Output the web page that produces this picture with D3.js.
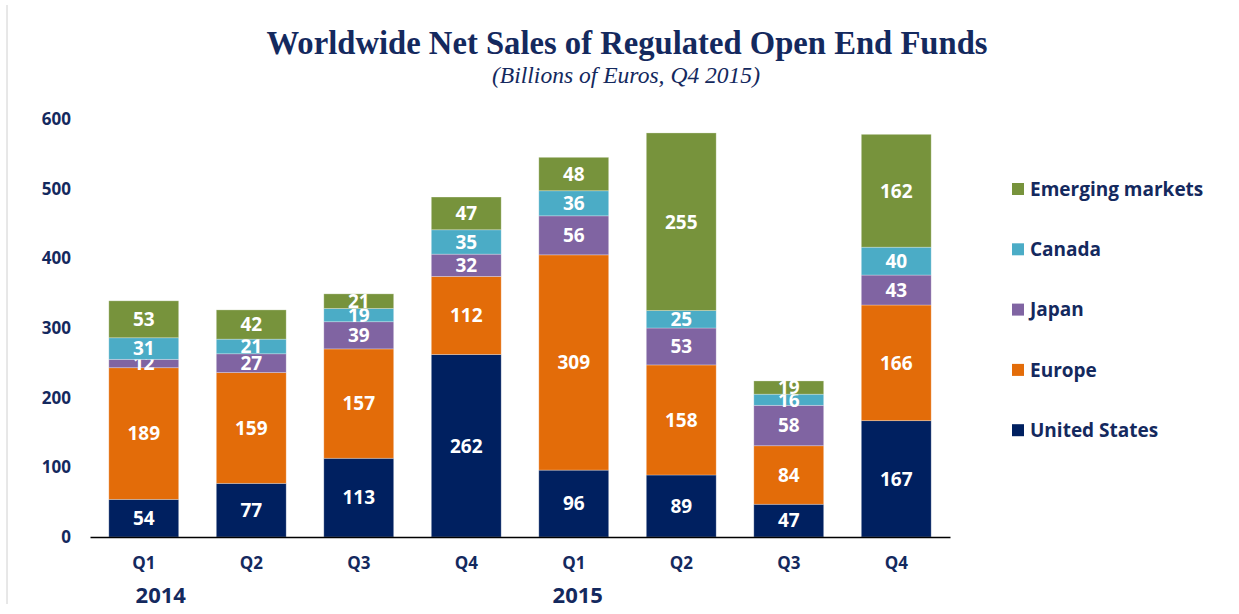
<!DOCTYPE html>
<html>
<head>
<meta charset="utf-8">
<script src="https://cdn.jsdelivr.net/npm/d3@7"></script>
<style>
  body { margin: 0; background: #fff; }
  svg { display: block; }
</style>
</head>
<body>
<svg id="chart" width="1239" height="614"></svg>
<script>
// Quarters shown along the x axis
const quarters = ["Q1 2014", "Q2 2014", "Q3 2014", "Q4 2014", "Q1 2015", "Q2 2015", "Q3 2015", "Q4 2015"];
const quarterLabels = ["Q1", "Q2", "Q3", "Q4", "Q1", "Q2", "Q3", "Q4"];
const years = ["2014", "2015"];

// Series values (billions of euros), stacked bottom to top
const unitedStates = [54, 77, 113, 262, 96, 89, 47, 167];
const europe = [189, 159, 157, 112, 309, 158, 84, 166];
const japan = [12, 27, 39, 32, 56, 53, 58, 43];
const canada = [31, 21, 19, 35, 36, 25, 16, 40];
const emerging = [53, 42, 21, 47, 48, 255, 19, 162];

const yTicks = [0, 100, 200, 300, 400, 500, 600];

const seriesNames = ["United States", "Europe", "Japan", "Canada", "Emerging markets"];
const seriesValues = [unitedStates, europe, japan, canada, emerging];
const seriesColors = ["#002060", "#E36C09", "#8064A2", "#4BACC6", "#77933C"];

const textColor = "#14295e";
const sansFont = "'Open Sans', 'Noto Sans', sans-serif";

const svg = d3.select("#chart");

// faint frame line at the left
svg.append("line")
    .attr("x1", 7).attr("x2", 7)
    .attr("y1", 5).attr("y2", 604)
    .style("stroke", "#d0d0d0")
    .style("stroke-width", 1);

// Title (narrow serif look, squeezed to the reference width)
svg.append("text")
    .attr("x", 627).attr("y", 54)
    .attr("text-anchor", "middle")
    .attr("textLength", 721)
    .attr("lengthAdjust", "spacingAndGlyphs")
    .style("font-family", "'Liberation Serif', 'Times New Roman', serif")
    .style("font-weight", "bold")
    .style("font-size", "34px")
    .style("fill", textColor)
    .text("Worldwide  Net Sales of Regulated Open End Funds");

svg.append("text")
    .attr("x", 626).attr("y", 83)
    .attr("text-anchor", "middle")
    .attr("textLength", 268)
    .attr("lengthAdjust", "spacingAndGlyphs")
    .style("font-family", "'Liberation Serif', 'Times New Roman', serif")
    .style("font-style", "italic")
    .style("font-size", "23px")
    .style("fill", textColor)
    .text("(Billions of Euros, Q4 2015)");

// Scales
const x = d3.scaleBand()
    .domain(quarters)
    .range([90, 950])
    .paddingInner(0.35)
    .paddingOuter(0.175);

const y = d3.scaleLinear()
    .domain([0, 600])
    .range([537, 119]);

// Stack data
const table = quarters.map((q, i) => {
    const row = { quarter: q };
    seriesNames.forEach((name, s) => { row[name] = seriesValues[s][i]; });
    return row;
});

const stacked = d3.stack().keys(seriesNames)(table);

const layers = svg.append("g").selectAll("g")
    .data(stacked)
    .join("g")
    .attr("fill", (d, i) => seriesColors[i]);

layers.selectAll("rect")
    .data(d => d)
    .join("rect")
    .attr("x", d => x(d.data.quarter))
    .attr("y", d => y(d[1]))
    .attr("width", x.bandwidth())
    .attr("height", d => y(d[0]) - y(d[1]))
    .attr("stroke", "rgba(255,255,255,0.35)")
    .attr("stroke-width", 0.8);

// Data labels (centred in each segment, small segments overlap like the original)
layers.selectAll("text")
    .data(d => d.map(v => ({ v, key: d.key })))
    .join("text")
    .attr("x", d => x(d.v.data.quarter) + x.bandwidth() / 2)
    .attr("y", d => (y(d.v[0]) + y(d.v[1])) / 2)
    .attr("dy", "0.36em")
    .attr("text-anchor", "middle")
    .style("font-family", sansFont)
    .style("font-weight", "bold")
    .style("font-size", "19px")
    .style("fill", "#ffffff")
    .text(d => d.v.data[d.key]);

// Y axis (labels only)
const yAxis = svg.append("g")
    .attr("transform", "translate(71,0)")
    .call(d3.axisLeft(y).tickValues(yTicks).tickSize(0).tickPadding(0));
yAxis.select(".domain").remove();
yAxis.selectAll("text")
    .style("font-family", sansFont)
    .style("font-weight", "bold")
    .style("font-size", "17px")
    .style("fill", textColor);

// X axis
const xAxis = svg.append("g")
    .attr("transform", "translate(0,537)")
    .call(d3.axisBottom(x).tickSize(0).tickPadding(20).tickFormat((d, i) => quarterLabels[i]));
xAxis.select(".domain")
    .style("stroke", "#000")
    .style("stroke-width", 1.5);
xAxis.selectAll("text")
    .style("font-family", sansFont)
    .style("font-weight", "bold")
    .style("font-size", "17px")
    .style("fill", textColor);

// Year labels
const yearAnchors = [quarters[0], quarters[4]];
const yearOffsets = [17, 4];
svg.append("g").selectAll("text")
    .data(years)
    .join("text")
    .attr("x", (d, i) => x(yearAnchors[i]) + x.bandwidth() / 2 + yearOffsets[i])
    .attr("y", 603)
    .attr("text-anchor", "middle")
    .style("font-family", sansFont)
    .style("font-weight", "bold")
    .style("font-size", "22px")
    .style("fill", textColor)
    .text(d => d);

// Legend (top to bottom: emerging markets first)
const legendOrder = seriesNames.map((n, i) => i).reverse();
const legend = svg.append("g").selectAll("g")
    .data(legendOrder)
    .join("g")
    .attr("transform", (d, i) => `translate(1012,${189 + i * 60.3})`);

legend.append("rect")
    .attr("x", 0).attr("y", -6)
    .attr("width", 12).attr("height", 12)
    .attr("fill", d => seriesColors[d]);

legend.append("text")
    .attr("x", 18).attr("y", 0)
    .attr("dy", "0.36em")
    .style("font-family", sansFont)
    .style("font-weight", "bold")
    .style("font-size", "19px")
    .style("fill", textColor)
    .text(d => seriesNames[d]);
</script>
</body>
</html>
